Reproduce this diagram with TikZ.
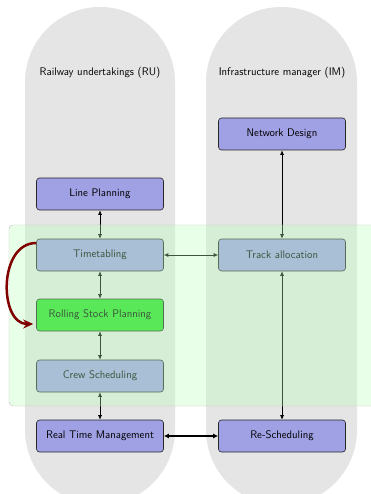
\documentclass[tikz,border=0pt]{standalone}
\usepackage{tikz}
\usetikzlibrary{arrows.meta,positioning}
\definecolor{lanegray}{RGB}{229,229,229}
\definecolor{planblue}{RGB}{160,160,228}
\definecolor{stockgreen}{RGB}{40,222,40}
\definecolor{loopred}{RGB}{128,0,0}

\begin{document}
\begin{tikzpicture}[x=1pt,y=-1pt]
	\begin{scope}

\tikzset{task/.style={draw=black!85,fill=planblue,rounded corners=3pt,minimum width=127pt,minimum height=32pt,font=\sffamily\fontsize{11}{13}\selectfont,line width=0.6pt}}
\tikzset{link/.style={{Latex[length=4.5pt,width=4pt]}-{Latex[length=4.5pt,width=4pt]},line width=0.7pt}}

\useasboundingbox (0,0) rectangle (370,494);

% the two lanes
\fill[lanegray,rounded corners=75pt] (25,7) rectangle (175,505);
\fill[lanegray,rounded corners=75pt] (206,7) rectangle (357,505);
\node(ru)[font=\sffamily\fontsize{11}{13}\selectfont] at (100,73){Railway undertakings (RU)};
\node(im)[font=\sffamily\fontsize{11}{13}\selectfont] at (282,73){Infrastructure manager (IM)};

\node(lp)[task] at (100,194){Line Planning};
\node(tt)[task] at (100,255){Timetabling};
\node(rs)[task,fill=stockgreen] at (100,315){Rolling Stock Planning};
\node(cs)[task] at (100,376){Crew Scheduling};
\node(rt)[task] at (100,436){Real Time Management};

\node(nd)[task] at (282,134){Network Design};
\node(ta)[task] at (282,255){Track allocation};
\node(re)[task] at (282,436){Re-Scheduling};

\foreach \a/\b in {lp/tt,tt/rs,rs/cs,cs/rt,nd/ta,ta/re}
{
\draw[link] (\a) -- (\b);
}
\draw[link] (tt) -- (ta);
\draw[{Latex[length=5pt,width=5pt]}-{Latex[length=5pt,width=5pt]},line width=1.3pt] (rt) -- (re);

% shaded planning stage
\draw[gray!50,fill=green!27,fill opacity=0.33,rounded corners=4pt] (9,225) rectangle (380,406);

% the loop back
\draw[-{Stealth[length=10pt,width=9pt]},line width=2.5pt,loopred]
	([yshift=12pt]tt.west) .. controls (-2,243) and (-1,324) .. ([xshift=-3pt,yshift=-9pt]rs.west);

	\end{scope}
\end{tikzpicture}
\end{document}
